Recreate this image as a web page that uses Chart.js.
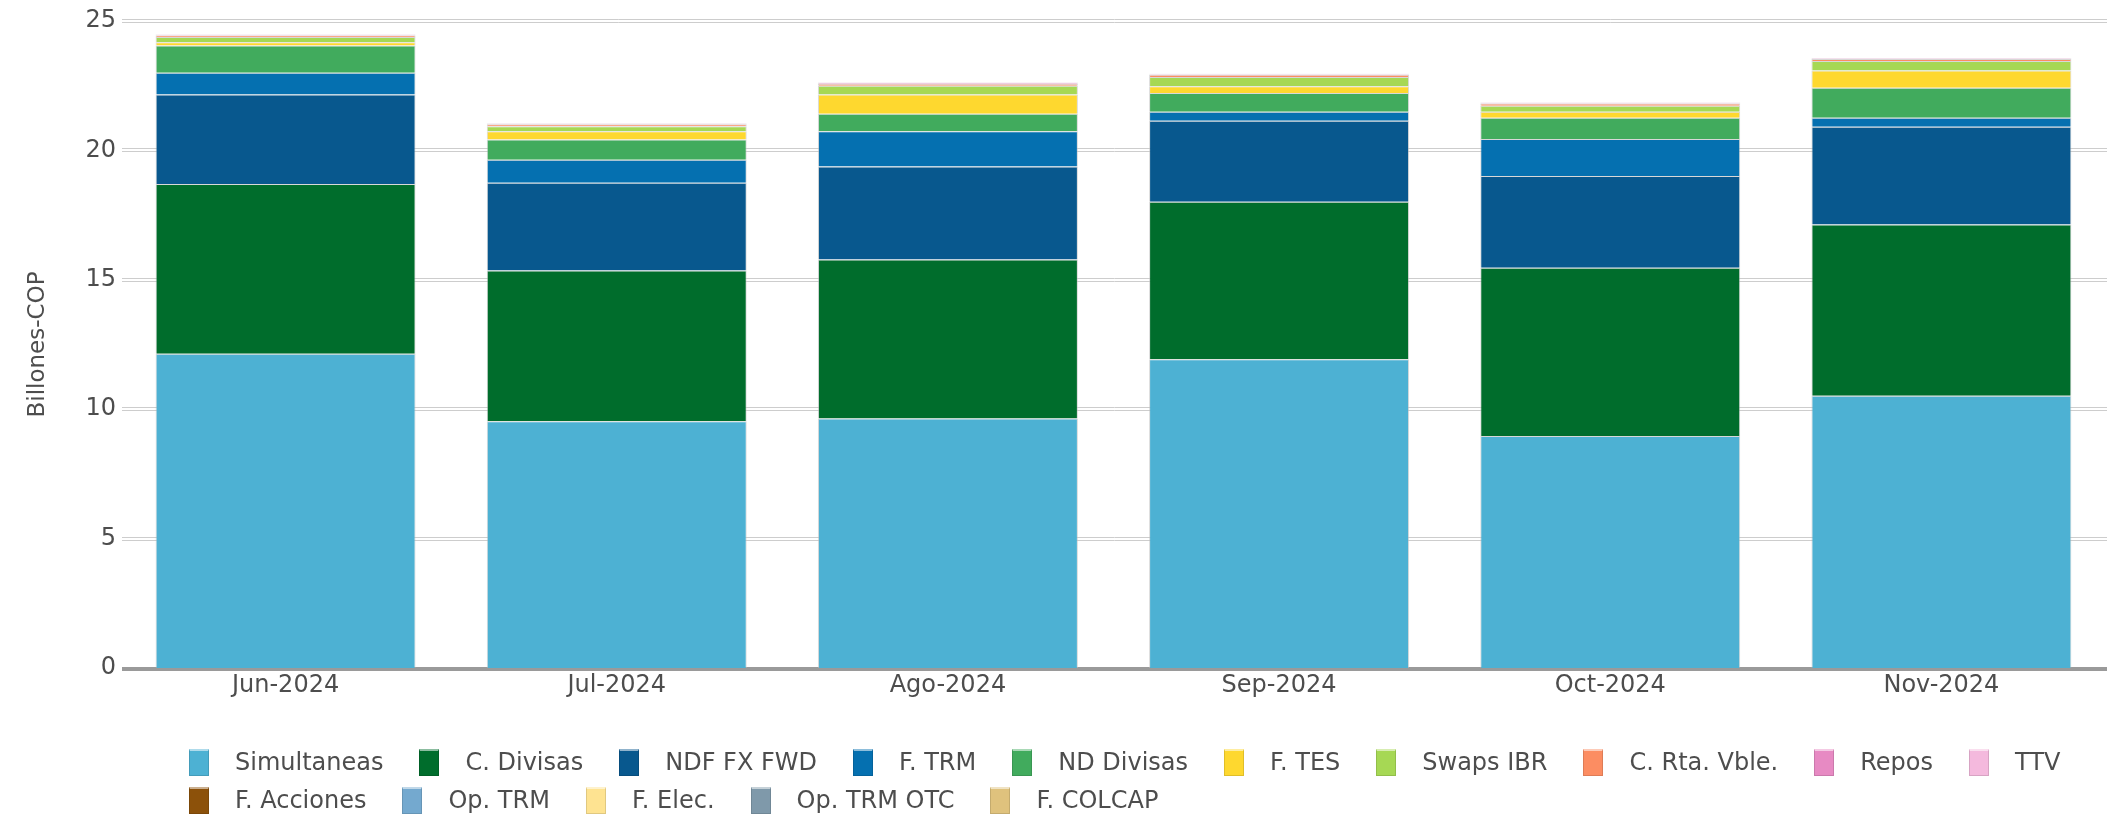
<!DOCTYPE html>
<html>
<head>
<meta charset="utf-8">
<script src="https://cdn.jsdelivr.net/npm/chart.js@4"></script>
<style>
  body { margin: 0; background: #fff; }
  #wrap { position: relative; width: 2112px; height: 822px; }
  #legend {
    position: absolute; left: 189px; top: 743px; width: 1923px;
    display: flex; flex-wrap: wrap;
    font: 24px "DejaVu Sans"; color: #4d4d4d;
  }
  .item { display: flex; align-items: center; height: 38px; margin-right: 36px; }
  .box { width: 20px; height: 27px; margin-right: 26px; box-sizing: border-box; border: 1px solid rgba(0,0,0,0.12); border-top: 2px solid rgba(255,255,255,0.55); }
</style>
</head>
<body>
<div id="wrap">
  <canvas id="chart" width="2112" height="822"></canvas>
  <div id="legend"></div>
</div>
<script>
// data (billones COP)
const categories = ['Jun-2024', 'Jul-2024', 'Ago-2024', 'Sep-2024', 'Oct-2024', 'Nov-2024'];
const simultaneas = [12.14, 9.53, 9.64, 11.93, 8.96, 10.52];
const cDivisas = [6.56, 5.83, 6.14, 6.09, 6.51, 6.62];
const ndfFxFwd = [3.46, 3.39, 3.60, 3.13, 3.54, 3.77];
const fTrm = [0.84, 0.89, 1.36, 0.34, 1.43, 0.35];
const ndDivisas = [1.05, 0.78, 0.68, 0.73, 0.82, 1.16];
const fTes = [0.13, 0.32, 0.74, 0.26, 0.23, 0.67];
const swapsIbr = [0.20, 0.19, 0.34, 0.36, 0.24, 0.36];
const cRtaVble = [0.06, 0.08, 0.08, 0.08, 0.08, 0.08];
const repos = [0.02, 0.02, 0.02, 0.02, 0.02, 0.02];
const ttv = [0.02, 0.02, 0.02, 0.02, 0.02, 0.02];
const fAcciones = [0, 0, 0, 0, 0, 0];
const opTrm = [0, 0, 0, 0, 0, 0];
const fElec = [0, 0, 0, 0, 0, 0];
const opTrmOtc = [0, 0, 0, 0, 0, 0];
const fColcap = [0, 0, 0, 0, 0, 0];
const yTicks = [0, 5, 10, 15, 20, 25];

const series = [
  { label: 'Simultaneas', data: simultaneas, color: '#4db1d3' },
  { label: 'C. Divisas', data: cDivisas, color: '#006d2c' },
  { label: 'NDF FX FWD', data: ndfFxFwd, color: '#08588e' },
  { label: 'F. TRM', data: fTrm, color: '#0570b0' },
  { label: 'ND Divisas', data: ndDivisas, color: '#41ab5d' },
  { label: 'F. TES', data: fTes, color: '#fed82f' },
  { label: 'Swaps IBR', data: swapsIbr, color: '#a6d854' },
  { label: 'C. Rta. Vble.', data: cRtaVble, color: '#fc8d62' },
  { label: 'Repos', data: repos, color: '#e78ac3' },
  { label: 'TTV', data: ttv, color: '#f4b9dd' },
  { label: 'F. Acciones', data: fAcciones, color: '#8c510a' },
  { label: 'Op. TRM', data: opTrm, color: '#74a9cf' },
  { label: 'F. Elec.', data: fElec, color: '#fee391' },
  { label: 'Op. TRM OTC', data: opTrmOtc, color: '#7f99aa' },
  { label: 'F. COLCAP', data: fColcap, color: '#dfc27d' }
];

// double grey grid lines like the original, thick line at zero
const doubleGrid = {
  id: 'doubleGrid',
  beforeDatasetsDraw(chart) {
    const { ctx, chartArea, scales } = chart;
    const y = scales.y;
    ctx.save();
    y.ticks.forEach(t => {
      const py = Math.round(y.getPixelForValue(t.value));
      ctx.beginPath();
      if (t.value === 0) {
        ctx.strokeStyle = '#9a9a9a';
        ctx.lineWidth = 4;
        ctx.moveTo(122, py + 1);
        ctx.lineTo(chartArea.right, py + 1);
      } else {
        ctx.strokeStyle = '#cdcdcd';
        ctx.lineWidth = 1;
        ctx.moveTo(122, py - 1.5);
        ctx.lineTo(chartArea.right, py - 1.5);
        ctx.moveTo(122, py + 1.5);
        ctx.lineTo(chartArea.right, py + 1.5);
      }
      ctx.stroke();
    });
    ctx.restore();
  }
};

const chart = new Chart(document.getElementById('chart').getContext('2d'), {
  type: 'bar',
  data: {
    labels: categories,
    datasets: series.map(s => ({
      label: s.label,
      data: s.data,
      backgroundColor: s.color,
      borderColor: 'rgba(190,190,190,0.6)',
      borderWidth: 1,
      barPercentage: 0.785,
      categoryPercentage: 1
    }))
  },
  options: {
    responsive: false,
    animation: false,
    devicePixelRatio: 1,
    layout: { padding: { top: 21, bottom: 114, left: 0, right: 5 } },
    plugins: { legend: { display: false }, tooltip: { enabled: false } },
    scales: {
      x: {
        stacked: true,
        grid: { display: false, drawTicks: false },
        border: { display: false },
        ticks: { padding: 3, color: '#4d4d4d', font: { family: 'DejaVu Sans', size: 24 } },
        afterFit: scale => { scale.height = 40; }
      },
      y: {
        stacked: true,
        min: 0,
        max: 25,
        afterBuildTicks: scale => { scale.ticks = yTicks.map(v => ({ value: v })); },
        grid: { display: false, drawTicks: false },
        border: { display: false },
        ticks: { padding: 4, color: '#4d4d4d', font: { family: 'DejaVu Sans', size: 24 } },
        title: {
          display: true,
          text: 'Billones-COP',
          color: '#4d4d4d',
          padding: { top: 24, bottom: 0 },
          font: { family: 'DejaVu Sans', size: 23 }
        },
        afterFit: scale => { scale.width = 120; }
      }
    }
  },
  plugins: [doubleGrid]
});

// html legend, rows aligned left like the original
const legendEl = document.getElementById('legend');
series.forEach(s => {
  const item = document.createElement('div');
  item.className = 'item';
  const box = document.createElement('span');
  box.className = 'box';
  box.style.background = s.color;
  const txt = document.createElement('span');
  txt.textContent = s.label;
  item.appendChild(box);
  item.appendChild(txt);
  legendEl.appendChild(item);
});
</script>
</body>
</html>
